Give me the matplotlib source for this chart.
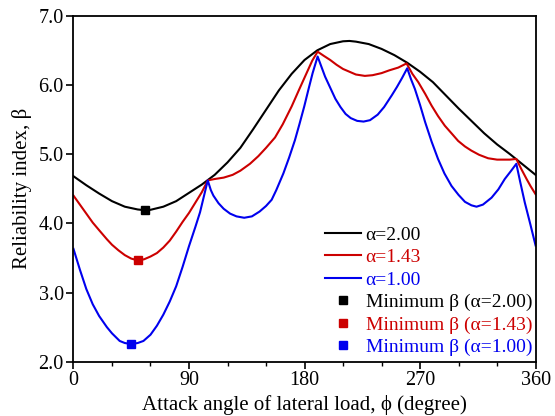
import matplotlib
matplotlib.use('Agg')
import matplotlib.pyplot as plt
from matplotlib.ticker import MultipleLocator, FormatStrFormatter

# attack angle (deg) and reliability index beta
ang_a200 = [0, 10, 20, 30, 40, 50, 55, 60, 70, 80, 90, 100, 110, 120, 130, 140, 150,
            160, 170, 180, 190, 200, 210, 215, 220, 230, 240, 250, 260, 270, 280, 290, 300, 310,
            320, 330, 340, 350, 360]
beta_a200 = [4.68, 4.55, 4.43, 4.32, 4.24, 4.20, 4.19, 4.195, 4.24, 4.32, 4.44, 4.56, 4.70, 4.88, 5.09, 5.36, 5.64,
             5.92, 6.16, 6.36, 6.50, 6.59, 6.63, 6.635, 6.625, 6.59, 6.52, 6.43, 6.32, 6.19, 6.04, 5.85, 5.66, 5.48,
             5.30, 5.14, 5.00, 4.85, 4.70]

ang_a143 = [0, 5, 10, 15, 20, 26, 30, 35, 40, 45, 50, 55, 60, 65, 70, 75, 80, 85, 90, 95, 100, 104.6,
            110, 117, 124, 130, 137.5, 144, 150, 157, 163, 170, 175.5, 181.6, 186, 190.2,
            195, 200, 205, 210, 215, 220, 227, 233, 240, 246, 253, 259.5,
            264, 268.6, 274, 279, 284, 289.3, 295, 299.7, 305, 310, 316, 323, 330, 336, 340, 345,
            349, 353, 356, 360]
beta_a143 = [4.40, 4.27, 4.14, 4.01, 3.90, 3.77, 3.69, 3.61, 3.54, 3.49, 3.465, 3.48, 3.52, 3.57, 3.65, 3.75, 3.88, 4.02, 4.15, 4.30, 4.45, 4.62,
             4.64, 4.66, 4.70, 4.76, 4.86, 4.97, 5.09, 5.24, 5.43, 5.69, 5.92, 6.17, 6.35, 6.48,
             6.42, 6.36, 6.29, 6.23, 6.19, 6.15, 6.13, 6.14, 6.17, 6.21, 6.25, 6.31,
             6.16, 6.04, 5.87, 5.70, 5.55, 5.41, 5.29, 5.19, 5.11, 5.05, 4.99, 4.94, 4.92, 4.92, 4.92, 4.93,
             4.78, 4.64, 4.54, 4.42]

ang_a100 = [0, 5, 10, 15, 20, 26, 30, 36, 40, 45, 50, 54.5, 60, 65, 70, 75, 80, 85, 90, 95, 98.6, 104.6,
            107, 109, 113, 117, 122, 127, 133, 139, 145, 150, 154.4, 158, 163.5, 168, 172.5, 176, 179.8,
            183, 186.3, 190.2,
            193, 196, 200, 204, 208, 212, 216, 221, 226, 231, 237, 242, 248, 252, 256, 260,
            263, 266, 270, 274, 279, 284, 289, 294.5, 300, 305, 310, 314, 319, 325.7, 331, 336, 341, 345,
            348, 351.6, 356, 360]
beta_a100 = [3.63, 3.33, 3.05, 2.83, 2.66, 2.50, 2.41, 2.30, 2.27, 2.255, 2.27, 2.30, 2.39, 2.52, 2.68, 2.87, 3.09, 3.37, 3.67, 3.95, 4.16, 4.62,
             4.48, 4.40, 4.29, 4.21, 4.14, 4.10, 4.08, 4.10, 4.17, 4.25, 4.34, 4.48, 4.72, 4.95, 5.20, 5.43, 5.69,
             5.93, 6.17, 6.41,
             6.27, 6.12, 5.96, 5.80, 5.68, 5.58, 5.52, 5.48, 5.47, 5.49, 5.57, 5.68, 5.85, 5.97, 6.10, 6.24,
             6.08, 5.94, 5.71, 5.46, 5.18, 4.93, 4.72, 4.54, 4.41, 4.31, 4.26, 4.24, 4.27, 4.37, 4.49, 4.64, 4.76, 4.86,
             4.60, 4.30, 3.98, 3.68]

# minimum beta points
min_ang = [55.4, 50.0, 45.0]
min_beta = [4.19, 3.465, 2.25]

alphas = ['2.00', '1.43', '1.00']
colors = ['black', '#cc0000', '#0000ee']

plt.rcParams['font.family'] = ['Liberation Serif', 'DejaVu Serif']

fig = plt.figure(figsize=(5.55, 4.16), dpi=100)
ax = fig.add_axes([0.1324, 0.1305, 0.8326, 0.8318])

curves = [(ang_a200, beta_a200), (ang_a143, beta_a143), (ang_a100, beta_a100)]
for (xs, ys), a, c in zip(curves, alphas, colors):
    ax.plot(xs, ys, color=c, lw=1.5, label='\u03b1=' + a)
for mx, my, a, c in zip(min_ang, min_beta, alphas, colors):
    ax.plot([mx], [my], 's', color=c, ms=6, ls='none',
            label='Minimum \u03b2 (\u03b1=' + a + ')')

ax.set_xlim(0, 360)
ax.set_ylim(2.0, 7.0)
ax.xaxis.set_major_locator(MultipleLocator(90))
ax.xaxis.set_minor_locator(MultipleLocator(30))
ax.yaxis.set_major_locator(MultipleLocator(1.0))
ax.yaxis.set_major_formatter(FormatStrFormatter('%.1f'))
ax.tick_params(which='major', direction='out', length=5, width=1.2, labelsize=14.5, pad=2)
ax.tick_params(which='minor', direction='out', length=3, width=1.0)
for s in ax.spines.values():
    s.set_linewidth(1.3)

ax.set_xlabel('Attack angle of lateral load, \u03d5 (degree)', fontsize=15, labelpad=3)
ax.set_ylabel('Reliability index, \u03b2', fontsize=15, labelpad=5)

leg = ax.legend(loc='lower right', bbox_to_anchor=(1.018, -0.018), frameon=False,
                fontsize=14, handlelength=1.85, handletextpad=0.26, labelspacing=0.25,
                borderaxespad=0.2)
for t, c in zip(leg.get_texts(), colors + colors):
    t.set_color(c)

fig.savefig('out.png', dpi=100)
